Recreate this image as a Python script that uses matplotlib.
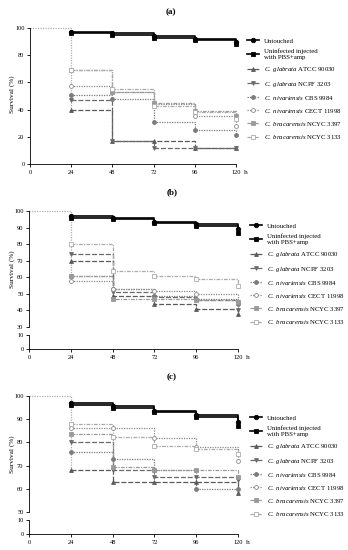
"""Kaplan-Meier style survival curves for three infection panels (a), (b), (c)."""

import matplotlib
matplotlib.use("Agg")
import matplotlib.pyplot as plt

plt.rcParams["font.family"] = ["Liberation Serif", "DejaVu Serif"]
plt.rcParams["mathtext.fontset"] = "custom"
plt.rcParams["mathtext.it"] = "Liberation Serif:italic"
plt.rcParams["mathtext.rm"] = "Liberation Serif"

W, H = 348, 550

times = [0, 24, 48, 72, 96, 120]
xticks = [0, 24, 48, 72, 96, 120]

labels = [
    "Untouched",
    "Uninfected injected\nwith PBS+amp",
    r"$\mathit{C.\ glabrata}$ ATCC 90030",
    r"$\mathit{C.\ glabrata}$ NCPF 3203",
    r"$\mathit{C.\ nivariensis}$ CBS 9984",
    r"$\mathit{C.\ nivariensis}$ CECT 11998",
    r"$\mathit{C.\ bracarensis}$ NCYC 3397",
    r"$\mathit{C.\ bracarensis}$ NCYC 3133",
]

# panel (a)
a_untouched = [100, 97, 96, 94, 92, 90]
a_pbs = [100, 96, 95, 93, 91, 88]
a_atcc90030 = [100, 40, 17, 17, 12, 12]
a_ncpf3203 = [100, 47, 17, 12, 12, 12]
a_cbs9984 = [100, 51, 48, 31, 25, 21]
a_cect11998 = [100, 57, 53, 44, 35, 28]
a_ncyc3397 = [100, 69, 53, 45, 39, 35]
a_ncyc3133 = [100, 69, 55, 43, 38, 33]

# panel (b)
b_untouched = [100, 97, 95.5, 93.5, 92, 89]
b_pbs = [100, 96, 95, 93, 91, 87]
b_atcc90030 = [100, 70, 49, 44, 41, 38]
b_ncpf3203 = [100, 74, 51, 48, 46, 40]
b_cbs9984 = [100, 61, 53, 49, 47, 44]
b_cect11998 = [100, 58, 53, 52, 50, 45]
b_ncyc3397 = [100, 61, 47, 47, 46, 45]
b_ncyc3133 = [100, 80, 64, 61, 59, 55]

# panel (c)
c_untouched = [100, 97, 95.5, 93.5, 92, 89]
c_pbs = [100, 96, 95, 93, 91, 87]
c_atcc90030 = [100, 68, 63, 63, 63, 58]
c_ncpf3203 = [100, 80, 68, 65, 65, 64]
c_cbs9984 = [100, 76, 73, 68, 60, 60]
c_cect11998 = [100, 86, 86, 82, 78, 72]
c_ncyc3397 = [100, 83.5, 69.5, 68, 68, 65]
c_ncyc3133 = [100, 88, 82.5, 78.5, 77, 75]

styles = [
    dict(color="black", ls="-", lw=1.2, marker="o", mfc="black"),
    dict(color="black", ls="-", lw=1.2, marker="s", mfc="black"),
    dict(color="#5a5a5a", ls=(0, (4, 1.5)), lw=0.9, marker="^", mfc="#5a5a5a"),
    dict(color="#6a6a6a", ls=(0, (4, 1.5)), lw=0.9, marker="v", mfc="#6a6a6a"),
    dict(color="#7c7c7c", ls=(0, (1, 1)), lw=0.9, marker="o", mfc="#7c7c7c"),
    dict(color="#8a8a8a", ls=(0, (1, 1)), lw=0.9, marker="o", mfc="white"),
    dict(color="#9a9a9a", ls=(0, (3, 1, 1, 1)), lw=0.9, marker="s", mfc="#9a9a9a"),
    dict(color="#ababab", ls=(0, (3, 1, 1, 1)), lw=0.9, marker="s", mfc="white"),
]

panels = [
    ("(a)", [a_untouched, a_pbs, a_atcc90030, a_ncpf3203, a_cbs9984, a_cect11998, a_ncyc3397, a_ncyc3133]),
    ("(b)", [b_untouched, b_pbs, b_atcc90030, b_ncpf3203, b_cbs9984, b_cect11998, b_ncyc3397, b_ncyc3133]),
    ("(c)", [c_untouched, c_pbs, c_atcc90030, c_ncpf3203, c_cbs9984, c_cect11998, c_ncyc3397, c_ncyc3133]),
]

FS_TICK = 4.6
FS_LEG = 4.9


def px_axes(fig, left, top, right, bottom):
    return fig.add_axes([left / W, 1 - bottom / H, (right - left) / W, (bottom - top) / H])


def style_axes(ax, show_x):
    for side in ("top", "right"):
        ax.spines[side].set_visible(False)
    ax.spines["left"].set_linewidth(0.6)
    ax.spines["bottom"].set_linewidth(0.6)
    ax.tick_params(labelsize=FS_TICK, length=2.5, width=0.6, pad=1.5)
    ax.set_xlim(0, 120)
    if show_x:
        ax.set_xticks(xticks)
        ax.annotate("h", xy=(1, 0), xycoords="axes fraction", xytext=(5.5, -4),
                    textcoords="offset points", fontsize=FS_TICK + 0.6, va="top", ha="left")
    else:
        ax.spines["bottom"].set_visible(False)
        ax.set_xticks([])


def draw_curves(ax, series):
    # shared start: everybody alive until the first time point, drawn once in light grey
    first_drop = min(vals[1] for vals in series)
    ax.plot([times[0], times[1], times[1]], [series[0][0], series[0][0], first_drop],
            color="#b0b0b0", ls=(0, (1, 1)), lw=0.9, zorder=1, clip_on=False)
    handles = []
    for idx, (vals, st) in enumerate(zip(series, styles)):
        black = idx < 2
        ms = 3.2 if black else 2.8
        ax.step(times[1:], vals[1:], where="post", color=st["color"], ls=st["ls"], lw=st["lw"],
                zorder=3 if black else 2, clip_on=False)
        ax.plot(times[1:], vals[1:], ls="none", marker=st["marker"], ms=ms,
                mfc=st["mfc"], mec=st["color"], mew=0.6, zorder=4, clip_on=False)
        h, = ax.plot([], [], color=st["color"], ls=st["ls"], lw=st["lw"], marker=st["marker"],
                     ms=ms, mfc=st["mfc"], mec=st["color"], mew=0.6)
        handles.append(h)
    return handles


def add_legend(fig, handles, x_px, y_px):
    fig.legend(handles, labels, loc="upper left", bbox_to_anchor=(x_px / W, 1 - y_px / H),
               frameon=False, fontsize=FS_LEG, handlelength=1.8, handletextpad=0.7,
               labelspacing=0.75, borderpad=0, borderaxespad=0)


fig = plt.figure(figsize=(W / 100, H / 100), dpi=100)

# (a): single axis
ax_a = px_axes(fig, 30, 28, 236, 164)
handles = draw_curves(ax_a, panels[0][1])
ax_a.set_ylim(0, 100)
ax_a.set_yticks([0, 20, 40, 60, 80, 100])
style_axes(ax_a, True)
fig.text(12 / W, 1 - 94 / H, "Survival (%)", fontsize=5.2, rotation=90, ha="center", va="center")
fig.text(171 / W, 1 - 12 / H, "(a)", fontsize=6.5, fontweight="bold", ha="center", va="center")
add_legend(fig, handles, 247, 38)

# (b) and (c): broken y axis
broken = [
    (panels[1], 211, 327, 335, 349, [30, 40, 50, 60, 70, 80, 90, 100], 192, 223),
    (panels[2], 396, 512, 520, 534, [50, 60, 70, 80, 90, 100], 377, 415),
]
for (title, series), top, mid_lo, mid_hi, bottom, yt, title_y, leg_y in broken:
    ax_u = px_axes(fig, 29, top, 238, mid_lo)
    handles = draw_curves(ax_u, series)
    ax_u.set_ylim(yt[0], 100)
    ax_u.set_yticks(yt)
    style_axes(ax_u, False)
    ax_l = px_axes(fig, 29, mid_hi, 238, bottom)
    ax_l.set_ylim(0, 10)
    ax_l.set_yticks([0, 10])
    style_axes(ax_l, True)
    fig.text(12 / W, 1 - (top + mid_lo) / 2 / H, "Survival (%)", fontsize=5.2,
             rotation=90, ha="center", va="center")
    fig.text(172 / W, 1 - title_y / H, title, fontsize=6.5, fontweight="bold",
             ha="center", va="center")
    add_legend(fig, handles, 250, leg_y)

fig.savefig("out.png", dpi=100, facecolor="white")
plt.close(fig)
